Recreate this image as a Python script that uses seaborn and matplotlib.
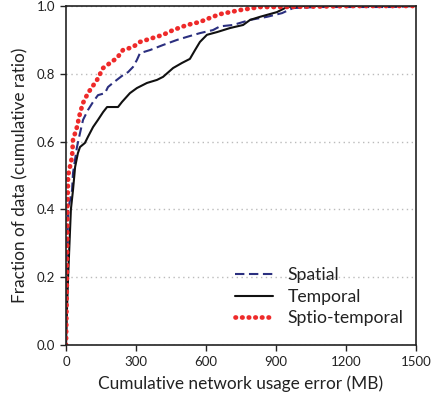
import matplotlib
matplotlib.use("Agg")
import matplotlib.pyplot as plt
import seaborn as sns
import pandas as pd

# ---- data (x in MB, y cumulative fraction) ----
temporal_x = [0, 4, 9, 21, 30, 39, 51, 60, 81, 94, 116, 137, 159, 176, 223, 240, 274, 304, 347,
              390, 416, 459, 497, 531, 553, 574, 604, 647, 703, 759, 789, 831, 904, 947, 1003, 1500]
temporal_y = [0, 0.1, 0.2, 0.4, 0.457, 0.525, 0.566, 0.584, 0.596, 0.614, 0.643, 0.664, 0.687, 0.702,
              0.702, 0.717, 0.743, 0.758, 0.773, 0.782, 0.791, 0.817, 0.832, 0.844, 0.870, 0.894,
              0.915, 0.923, 0.935, 0.944, 0.959, 0.968, 0.982, 0.997, 1.0, 1.0]

spatial_x = [0, 4, 9, 18, 26, 30, 47, 60, 73, 94, 116, 137, 167, 180, 201, 244, 266, 287, 304, 317,
             360, 416, 476, 519, 574, 630, 660, 716, 789, 861, 926, 973, 1076, 1400, 1500]
spatial_y = [0, 0.2, 0.4, 0.43, 0.457, 0.507, 0.584, 0.625, 0.664, 0.693, 0.717, 0.737, 0.743, 0.761,
             0.773, 0.796, 0.805, 0.820, 0.841, 0.861, 0.870, 0.885, 0.900, 0.909, 0.920, 0.929,
             0.940, 0.944, 0.959, 0.968, 0.979, 0.994, 0.997, 0.997, 1.0]

spatio_x = [0, 4, 6, 9, 26, 30, 47, 60, 73, 94, 103, 133, 159, 189, 219, 244, 287, 317, 373, 416,
            459, 519, 574, 617, 660, 746, 831, 930, 1230, 1500]
spatio_y = [0, 0.2, 0.4, 0.5, 0.555, 0.605, 0.643, 0.684, 0.714, 0.743, 0.752, 0.782, 0.817, 0.832,
            0.847, 0.870, 0.879, 0.894, 0.906, 0.915, 0.929, 0.944, 0.953, 0.965, 0.976, 0.988,
            0.997, 0.997, 1.0, 1.0]

series_names = ["Spatial", "Temporal", "Sptio-temporal"]
x_ticks = [0, 300, 600, 900, 1200, 1500]
y_ticks = [0.0, 0.2, 0.4, 0.6, 0.8, 1.0]

sns.set_theme(style="white")
plt.rcParams["font.family"] = ["Lato", "DejaVu Sans"]

fig = plt.figure(figsize=(4.35, 4.0), dpi=100)
ax = fig.add_axes([66 / 435, 1 - 345 / 400, 350 / 435, 339 / 400])

df_sp = pd.DataFrame({"x": spatial_x, "y": spatial_y})
df_te = pd.DataFrame({"x": temporal_x, "y": temporal_y})
df_st = pd.DataFrame({"x": spatio_x, "y": spatio_y})

sns.lineplot(data=df_sp, x="x", y="y", ax=ax, estimator=None, sort=False,
             color="#2b2f7f", linewidth=1.5, linestyle=(0, (4.5, 2.2)), label=series_names[0])
sns.lineplot(data=df_te, x="x", y="y", ax=ax, estimator=None, sort=False,
             color="#111111", linewidth=1.5, linestyle="-", label=series_names[1])
sns.lineplot(data=df_st, x="x", y="y", ax=ax, estimator=None, sort=False,
             color="#ee2a2a", linewidth=3.4, linestyle=(0, (0.1, 1.3)),
             label=series_names[2])
for ln in ax.get_lines():
    if ln.get_label() == series_names[2]:
        ln.set_dash_capstyle("round")

ax.set_xlim(0, 1500)
ax.set_ylim(0, 1.0)
ax.set_xticks(x_ticks)
ax.set_xticklabels([str(v) for v in x_ticks])
ax.set_yticks(y_ticks)
ax.set_yticklabels([f"{v:.1f}" for v in y_ticks])
ax.tick_params(axis="both", direction="out", length=4, width=1, color="#222222",
               labelsize=9.5, pad=4, bottom=True, left=True, labelcolor="#222222")
ax.yaxis.grid(True, linestyle=(0, (1, 2.5)), color="#bbbbbb", linewidth=1)
ax.xaxis.grid(False)
for s in ax.spines.values():
    s.set_color("#222222")
    s.set_linewidth(1.2)

ax.set_xlabel("Cumulative network usage error (MB)", fontsize=12.4, labelpad=5, color="#222222")
ax.set_ylabel("Fraction of data (cumulative ratio)", fontsize=12.4, labelpad=6, color="#222222")

leg = ax.legend(loc="lower right", bbox_to_anchor=(0.985, 0.035), frameon=False,
                fontsize=12.7, handlelength=2.15, handletextpad=0.85, labelspacing=0.3,
                borderaxespad=0)
for t in leg.get_texts():
    t.set_color("#222222")
for ln in leg.get_lines():
    if ln.get_label() == series_names[2]:
        ln.set_dash_capstyle("round")

fig.savefig("out.png", dpi=100)
